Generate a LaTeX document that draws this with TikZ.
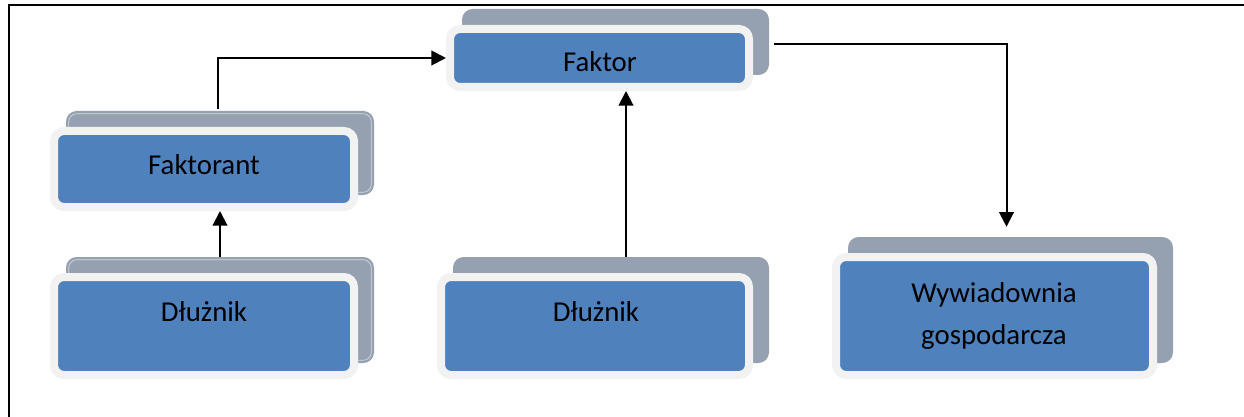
\documentclass[tikz,border=0pt]{standalone}
\usepackage{fontspec}
\setmainfont{Carlito}
\usetikzlibrary{calc,arrows.meta}
\definecolor{boxblue}{HTML}{4F81BD}
\definecolor{boxrim}{HTML}{F2F2F2}
\definecolor{boxshade}{HTML}{95A1B0}
\tikzset{
  shadowbox/.style={rectangle, fill=boxshade, rounded corners=8pt, inner sep=0pt},
  frontbox/.style={rectangle, fill=boxblue, draw=boxrim, line width=6pt, rounded corners=7.5pt, inner sep=0pt},
  shadeline/.style={draw=white, draw opacity=0.6, line width=0.5pt, rounded corners=6pt},
  lbl/.style={font=\fontsize{21.6pt}{32pt}\selectfont, text=black, inner sep=0pt},
  conn/.style={line width=1.5pt, -{Triangle[length=11pt,width=11pt]}},
  framel/.style={line width=1.5pt}
}
\newcommand\mkbox[5]{%
  \node[shadowbox, minimum width={(#4-#2)*0.75pt}, minimum height={(#5-#3)*0.75pt}]
    (#1-s) at ({(#2+#4)/2+16},{(#3+#5)/2-16}) {};
  \node[frontbox, minimum width={(#4-#2-8)*0.75pt}, minimum height={(#5-#3-8)*0.75pt}]
    (#1) at ({(#2+#4)/2},{(#3+#5)/2}) {};
}
\begin{document}
\begin{tikzpicture}[x=0.75pt,y=-0.75pt]
\useasboundingbox (0,0) rectangle (1244,417);
% frame
\draw[framel] (9,417) -- (9,5.5) -- (1244,5.5);
% boxes
\node[shadowbox, minimum width={308*0.75pt}, minimum height={84*0.75pt}] (fk-s) at (220,153) {};
\path[shadeline] ($(fk-s.north west)+(3,3)$) rectangle ($(fk-s.south east)+(-3,-3)$);
\node[frontbox, minimum width={300*0.75pt}, minimum height={76*0.75pt}] (fk) at (204,169) {};
\node[shadowbox, minimum width={308*0.75pt}, minimum height={106*0.75pt}] (dl-s) at (220,310) {};
\path[shadeline] ($(dl-s.north west)+(3,3)$) rectangle ($(dl-s.south east)+(-3,-3)$);
\node[frontbox, minimum width={300*0.75pt}, minimum height={98*0.75pt}] (dl) at (204,326) {};
\mkbox{dm}{437}{273}{753}{379}
\mkbox{fa}{446}{25}{753}{91}
\mkbox{wy}{832}{253}{1157}{379}
% texts
\node[lbl, anchor=base] (fk-t) at (204,175) {Faktorant};
\node[lbl, anchor=base] (dl-t) at (204,321.7) {Dłużnik};
\node[lbl, anchor=base] (dm-t) at (596,321.7) {Dłużnik};
\node[lbl, anchor=base] (fa-t) at (600,71.7) {Faktor};
\node[lbl, align=center, anchor=center] (wy-t) at (994,316) {Wywiadownia\\gospodarcza};
% connectors
\coordinate (c1) at ($(fk-s.north)+(-2,-2)$);
\draw[conn] (c1) |- (fa.west);
\draw[conn] (dl-s.north) -- (dl-s.north |- fk.south);
\coordinate (c3) at ($(dm-s.north)+(15,0)$);
\draw[conn] (c3) -- (c3 |- fa.south);
\coordinate (c4a) at ($(fa-s.east)+(5,2)$);
\coordinate (c4b) at ($(wy-s.north)+(-4,-10)$);
\draw[conn] (c4a) -| (c4b);
\end{tikzpicture}
\end{document}
